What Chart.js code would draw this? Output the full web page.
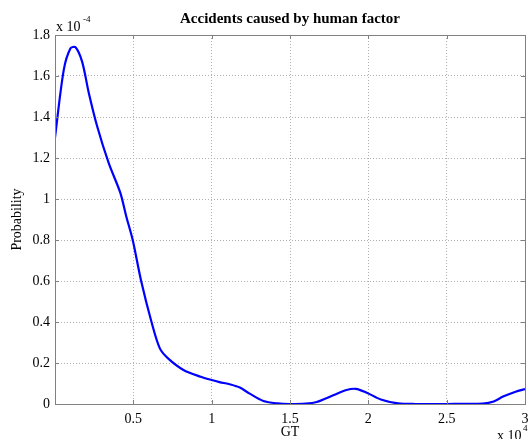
<!DOCTYPE html>
<html>
<head>
<meta charset="utf-8">
<script src="https://cdn.jsdelivr.net/npm/chart.js@4"></script>
<style>
  html, body { margin: 0; padding: 0; background: #fff; }
  #wrap { width: 529px; height: 439px; position: relative; }
</style>
</head>
<body>
<div id="wrap"><canvas id="chart"></canvas></div>
<script>
// GT in units of 1e4, probability in units of 1e-4 (as the axis labels show)
const gt = [0.0, 0.056, 0.099, 0.131, 0.173, 0.215, 0.269, 0.343, 0.417, 0.455,
            0.496, 0.55, 0.616, 0.67, 0.725, 0.82, 0.93, 1.0, 1.05, 1.12,
            1.18, 1.24, 1.33, 1.42, 1.5, 1.6, 1.67, 1.78, 1.86, 1.92,
            1.99, 2.08, 2.19, 2.3, 2.5, 2.73, 2.8, 2.86, 2.94, 3.0];
const prob = [1.30, 1.63, 1.735, 1.74, 1.67, 1.52, 1.355, 1.175, 1.03, 0.915,
              0.80, 0.60, 0.40, 0.27, 0.22, 0.166, 0.133, 0.117, 0.107, 0.095,
              0.080, 0.052, 0.015, 0.003, 0.0, 0.002, 0.010, 0.044, 0.068, 0.074,
              0.055, 0.022, 0.003, 0.0, 0.0, 0.002, 0.012, 0.036, 0.060, 0.073];
const xTicks = [0, 0.5, 1, 1.5, 2, 2.5, 3];
const yTicks = [0, 0.2, 0.4, 0.6, 0.8, 1, 1.2, 1.4, 1.6, 1.8];

const serif = '"Liberation Serif", "DejaVu Serif", serif';

// title, axis labels, exponent notes, inner ticks and box
const extras = {
    id: 'extras',
    afterDraw(chart) {
        const ctx = chart.ctx;
        const a = chart.chartArea;
        const xs = chart.scales.x, ys = chart.scales.y;
        ctx.save();
        ctx.strokeStyle = '#808080';
        ctx.lineWidth = 1;
        ctx.beginPath();
        xTicks.forEach(v => {
            const p = Math.round(xs.getPixelForValue(v)) + 0.5;
            ctx.moveTo(p, a.bottom); ctx.lineTo(p, a.bottom - 4);
            ctx.moveTo(p, a.top); ctx.lineTo(p, a.top + 4);
        });
        yTicks.forEach(v => {
            const p = Math.round(ys.getPixelForValue(v)) + 0.5;
            ctx.moveTo(a.left, p); ctx.lineTo(a.left + 4, p);
            ctx.moveTo(a.right, p); ctx.lineTo(a.right - 4, p);
        });
        ctx.stroke();
        ctx.strokeRect(Math.round(a.left) + 0.5, Math.round(a.top) + 0.5,
                       Math.round(a.right - a.left), Math.round(a.bottom - a.top));

        ctx.fillStyle = '#000';
        ctx.textAlign = 'center';
        ctx.textBaseline = 'middle';
        ctx.font = 'bold 15px ' + serif;
        ctx.fillText('Accidents caused by human factor', (a.left + a.right) / 2, 19);

        ctx.font = '14px ' + serif;
        ctx.fillText('GT', (a.left + a.right) / 2, 432);
        ctx.save();
        ctx.translate(17, (a.top + a.bottom) / 2);
        ctx.rotate(-Math.PI / 2);
        ctx.fillText('Probability', 0, 0);
        ctx.restore();

        // exponents
        ctx.textAlign = 'left';
        ctx.font = '14px ' + serif;
        ctx.fillText('x 10', 56, 27);
        ctx.font = '9px ' + serif;
        ctx.fillText('-4', 83, 20);
        ctx.font = '14px ' + serif;
        ctx.fillText('x 10', 497, 436);
        ctx.font = '9px ' + serif;
        ctx.fillText('4', 523, 429);
        ctx.restore();
    }
};

new Chart(document.getElementById('chart'), {
    type: 'line',
    data: {
        datasets: [{
            data: gt.map((x, i) => ({ x: x, y: prob[i] })),
            borderColor: '#0000ff',
            borderWidth: 2.2,
            pointRadius: 0,
            fill: false,
            tension: 0.3
        }]
    },
    options: {
        responsive: true,
        maintainAspectRatio: false,
        animation: false,
        layout: { padding: { top: 35, right: 4, left: 0, bottom: 0 } },
        plugins: { legend: { display: false }, title: { display: false }, tooltip: { enabled: false } },
        scales: {
            x: {
                type: 'linear',
                min: 0,
                max: 3,
                afterFit: s => { s.height = 35; s.paddingLeft = 0; s.paddingRight = 0; },
                afterBuildTicks: s => { s.ticks = xTicks.map(v => ({ value: v })); },
                ticks: {
                    color: '#000',
                    font: { family: serif, size: 14 },
                    padding: 7,
                    maxRotation: 0,
                    callback: v => (v === 0 ? '' : String(v))
                },
                grid: {
                    color: ctx => (ctx.tick && (ctx.tick.value === 0 || ctx.tick.value === 3) ? 'rgba(0,0,0,0)' : '#b0b0b0'),
                    drawTicks: false
                },
                border: { display: false, dash: [1, 2] }
            },
            y: {
                min: 0,
                max: 1.8,
                afterFit: s => { s.width = 55; s.paddingTop = 0; s.paddingBottom = 0; },
                afterBuildTicks: s => { s.ticks = yTicks.map(v => ({ value: v })); },
                ticks: {
                    color: '#000',
                    font: { family: serif, size: 14 },
                    padding: 5,
                    callback: v => String(Number(v.toFixed(1)))
                },
                grid: {
                    color: ctx => (ctx.tick && (ctx.tick.value === 0 || ctx.tick.value === 1.8) ? 'rgba(0,0,0,0)' : '#b0b0b0'),
                    drawTicks: false
                },
                border: { display: false, dash: [1, 2] }
            }
        }
    },
    plugins: [extras]
});
</script>
</body>
</html>
